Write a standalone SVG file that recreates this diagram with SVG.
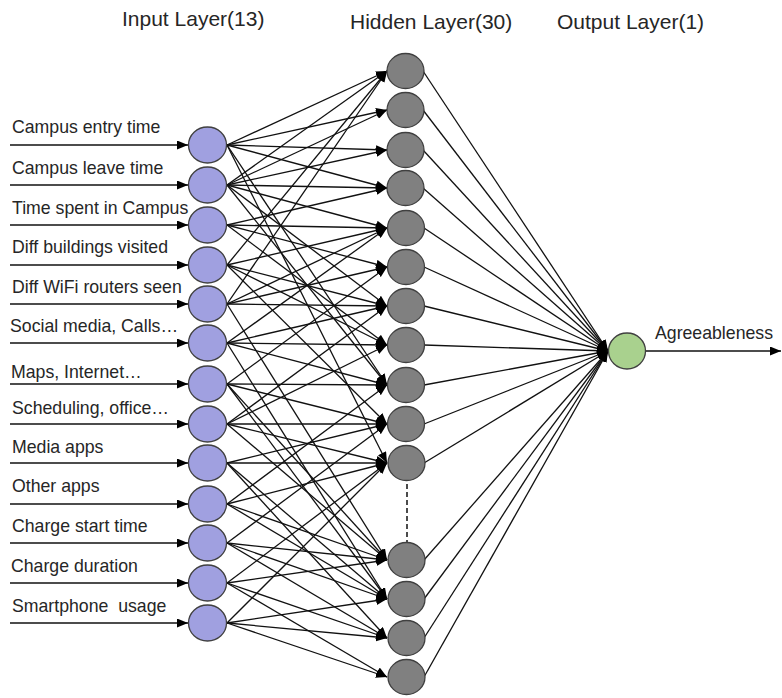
<svg xmlns="http://www.w3.org/2000/svg" width="782" height="698" viewBox="0 0 782 698">
<defs>
<marker id="ah" markerUnits="userSpaceOnUse" markerWidth="11" markerHeight="9" refX="11" refY="4.5" orient="auto"><path d="M0,0 L11,4.5 L0,9 z" fill="#000"/></marker>
<style>
text{font-family:"Liberation Sans",Arial,sans-serif;fill:#262626}
.t{font-size:21px}
.l{font-size:17.7px}
.c line{stroke:#111;stroke-width:1.3;marker-end:url(#ah)}
.in ellipse{fill:#a0a0e0;stroke:#404040;stroke-width:1.3}
.hid ellipse{fill:#808080;stroke:#404040;stroke-width:1.3}
.out ellipse{fill:#a9d18e;stroke:#404040;stroke-width:1.3}
</style>
</defs>
<rect width="782" height="698" fill="#fff"/>
<text class="t" x="122" y="26">Input Layer(13)</text>
<text class="t" x="350" y="29">Hidden Layer(30)</text>
<text class="t" x="557" y="29">Output Layer(1)</text>
<g id="connectors" class="c">
<line x1="10" y1="145" x2="188" y2="145"/>
<line x1="10" y1="185" x2="188" y2="185"/>
<line x1="10" y1="225" x2="188" y2="225"/>
<line x1="10" y1="265" x2="188" y2="265"/>
<line x1="10" y1="304" x2="188" y2="304"/>
<line x1="10" y1="343" x2="188" y2="343"/>
<line x1="10" y1="384" x2="188" y2="384"/>
<line x1="10" y1="424" x2="188" y2="424"/>
<line x1="10" y1="463" x2="188" y2="463"/>
<line x1="10" y1="504" x2="188" y2="504"/>
<line x1="10" y1="543" x2="188" y2="543"/>
<line x1="10" y1="583" x2="188" y2="583"/>
<line x1="10" y1="623" x2="188" y2="623"/>
<line x1="227" y1="145" x2="387" y2="71"/>
<line x1="227" y1="145" x2="387" y2="110"/>
<line x1="227" y1="145" x2="387" y2="150"/>
<line x1="227" y1="145" x2="387" y2="188"/>
<line x1="227" y1="145" x2="387" y2="385"/>
<line x1="227" y1="145" x2="387" y2="463"/>
<line x1="227" y1="185" x2="387" y2="71"/>
<line x1="227" y1="185" x2="387" y2="110"/>
<line x1="227" y1="185" x2="387" y2="150"/>
<line x1="227" y1="185" x2="387" y2="188"/>
<line x1="227" y1="185" x2="387" y2="228"/>
<line x1="227" y1="185" x2="387" y2="306"/>
<line x1="227" y1="185" x2="387" y2="385"/>
<line x1="227" y1="225" x2="387" y2="188"/>
<line x1="227" y1="225" x2="387" y2="228"/>
<line x1="227" y1="225" x2="387" y2="267"/>
<line x1="227" y1="225" x2="387" y2="345"/>
<line x1="227" y1="265" x2="387" y2="71"/>
<line x1="227" y1="265" x2="387" y2="228"/>
<line x1="227" y1="265" x2="387" y2="306"/>
<line x1="227" y1="265" x2="387" y2="345"/>
<line x1="227" y1="265" x2="387" y2="424"/>
<line x1="227" y1="304" x2="387" y2="71"/>
<line x1="227" y1="304" x2="387" y2="228"/>
<line x1="227" y1="304" x2="387" y2="267"/>
<line x1="227" y1="304" x2="387" y2="306"/>
<line x1="227" y1="304" x2="387" y2="560"/>
<line x1="227" y1="343" x2="387" y2="228"/>
<line x1="227" y1="343" x2="387" y2="306"/>
<line x1="227" y1="343" x2="387" y2="345"/>
<line x1="227" y1="343" x2="387" y2="385"/>
<line x1="227" y1="343" x2="387" y2="599"/>
<line x1="227" y1="384" x2="387" y2="267"/>
<line x1="227" y1="384" x2="387" y2="385"/>
<line x1="227" y1="384" x2="387" y2="424"/>
<line x1="227" y1="384" x2="387" y2="560"/>
<line x1="227" y1="384" x2="387" y2="599"/>
<line x1="227" y1="424" x2="387" y2="306"/>
<line x1="227" y1="424" x2="387" y2="345"/>
<line x1="227" y1="424" x2="387" y2="424"/>
<line x1="227" y1="424" x2="387" y2="463"/>
<line x1="227" y1="424" x2="387" y2="560"/>
<line x1="227" y1="463" x2="387" y2="424"/>
<line x1="227" y1="463" x2="387" y2="463"/>
<line x1="227" y1="463" x2="387" y2="599"/>
<line x1="227" y1="463" x2="387" y2="638"/>
<line x1="227" y1="504" x2="387" y2="385"/>
<line x1="227" y1="504" x2="387" y2="463"/>
<line x1="227" y1="504" x2="387" y2="560"/>
<line x1="227" y1="504" x2="387" y2="599"/>
<line x1="227" y1="543" x2="387" y2="424"/>
<line x1="227" y1="543" x2="387" y2="560"/>
<line x1="227" y1="543" x2="387" y2="599"/>
<line x1="227" y1="543" x2="387" y2="638"/>
<line x1="227" y1="583" x2="387" y2="463"/>
<line x1="227" y1="583" x2="387" y2="560"/>
<line x1="227" y1="583" x2="387" y2="638"/>
<line x1="227" y1="583" x2="387" y2="677"/>
<line x1="227" y1="623" x2="387" y2="463"/>
<line x1="227" y1="623" x2="387" y2="599"/>
<line x1="227" y1="623" x2="387" y2="638"/>
<line x1="227" y1="623" x2="387" y2="677"/>
<line x1="423" y1="71" x2="608" y2="351"/>
<line x1="423" y1="110" x2="608" y2="351"/>
<line x1="423" y1="150" x2="608" y2="351"/>
<line x1="423" y1="188" x2="608" y2="351"/>
<line x1="424" y1="228" x2="608" y2="351"/>
<line x1="424" y1="267" x2="608" y2="351"/>
<line x1="424" y1="306" x2="608" y2="351"/>
<line x1="424" y1="345" x2="608" y2="351"/>
<line x1="424" y1="385" x2="608" y2="351"/>
<line x1="424" y1="424" x2="608" y2="351"/>
<line x1="424" y1="463" x2="608" y2="351"/>
<line x1="424" y1="560" x2="608" y2="351"/>
<line x1="424" y1="599" x2="608" y2="351"/>
<line x1="424" y1="638" x2="608" y2="351"/>
<line x1="424" y1="677" x2="608" y2="351"/>
<line x1="645" y1="351" x2="781" y2="351"/>
<path d="M407,484 V542" fill="none" stroke="#111" stroke-width="1.5" stroke-dasharray="5,3"/>
</g>
<g id="labels">
<text class="l" x="12" y="133">Campus entry time</text>
<text class="l" x="12" y="174">Campus leave time</text>
<text class="l" x="12" y="214">Time spent in Campus</text>
<text class="l" x="12" y="253">Diff buildings visited</text>
<text class="l" x="12" y="293">Diff WiFi routers seen</text>
<text class="l" x="10" y="332">Social media, Calls…</text>
<text class="l" x="11" y="378">Maps, Internet…</text>
<text class="l" x="12" y="414">Scheduling, office…</text>
<text class="l" x="12" y="453">Media apps</text>
<text class="l" x="12" y="492">Other apps</text>
<text class="l" x="12" y="532">Charge start time</text>
<text class="l" x="11" y="572">Charge duration</text>
<text class="l" x="12" y="612">Smartphone&#160; usage</text>
<text class="l" x="655" y="339">Agreeableness</text>
</g>
<g id="input-nodes" class="in">
<g id="i1"><ellipse cx="207.5" cy="145" rx="19" ry="18"/></g>
<g id="i2"><ellipse cx="207.5" cy="185" rx="19" ry="18"/></g>
<g id="i3"><ellipse cx="207.5" cy="225" rx="19" ry="18"/></g>
<g id="i4"><ellipse cx="207.5" cy="265" rx="19" ry="18"/></g>
<g id="i5"><ellipse cx="207.5" cy="304" rx="19" ry="18"/></g>
<g id="i6"><ellipse cx="207.5" cy="343" rx="19" ry="18"/></g>
<g id="i7"><ellipse cx="207.5" cy="384" rx="19" ry="18"/></g>
<g id="i8"><ellipse cx="207.5" cy="424" rx="19" ry="18"/></g>
<g id="i9"><ellipse cx="207.5" cy="463" rx="19" ry="18"/></g>
<g id="i10"><ellipse cx="207.5" cy="504" rx="19" ry="18"/></g>
<g id="i11"><ellipse cx="207.5" cy="543" rx="19" ry="18"/></g>
<g id="i12"><ellipse cx="207.5" cy="583" rx="19" ry="18"/></g>
<g id="i13"><ellipse cx="207.5" cy="623" rx="19" ry="18"/></g>
</g>
<g id="hidden-nodes" class="hid">
<g id="h1"><ellipse cx="405.5" cy="71" rx="18.5" ry="17.5"/></g>
<g id="h2"><ellipse cx="405.5" cy="110" rx="18.5" ry="17.5"/></g>
<g id="h3"><ellipse cx="405.5" cy="150" rx="18.5" ry="17.5"/></g>
<g id="h4"><ellipse cx="405.5" cy="188" rx="18.5" ry="17.5"/></g>
<g id="h5"><ellipse cx="406" cy="228" rx="18.5" ry="17.5"/></g>
<g id="h6"><ellipse cx="406" cy="267" rx="18.5" ry="17.5"/></g>
<g id="h7"><ellipse cx="406" cy="306" rx="18.5" ry="17.5"/></g>
<g id="h8"><ellipse cx="406" cy="345" rx="18.5" ry="17.5"/></g>
<g id="h9"><ellipse cx="406" cy="385" rx="18.5" ry="17.5"/></g>
<g id="h10"><ellipse cx="406" cy="424" rx="18.5" ry="17.5"/></g>
<g id="h11"><ellipse cx="406.5" cy="463" rx="18.5" ry="17.5"/></g>
<g id="h12"><ellipse cx="406.5" cy="560" rx="18.5" ry="17.5"/></g>
<g id="h13"><ellipse cx="406.5" cy="599" rx="18.5" ry="17.5"/></g>
<g id="h14"><ellipse cx="406.5" cy="638" rx="18.5" ry="17.5"/></g>
<g id="h15"><ellipse cx="406.5" cy="677" rx="18.5" ry="17.5"/></g>
</g>
<g id="output-node" class="out">
<g id="o1"><ellipse cx="627" cy="351" rx="18.5" ry="18"/></g>
</g>
</svg>
